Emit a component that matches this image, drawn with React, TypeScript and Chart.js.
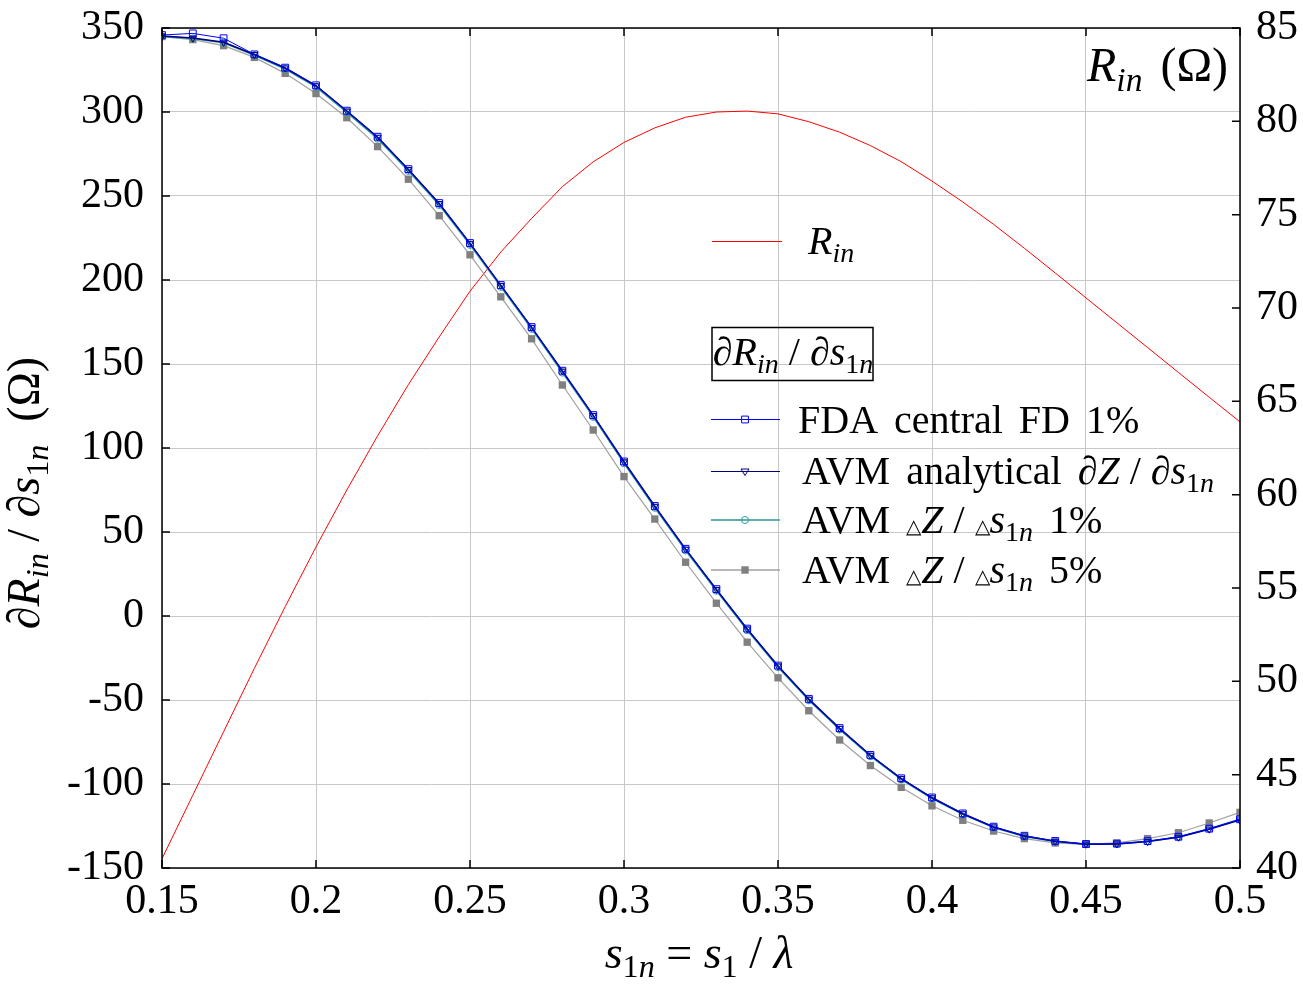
import React, { useEffect, useRef } from "react";
import { Chart, registerables } from "chart.js";

Chart.register(...registerables);

const xValues = [
  0.15, 0.16, 0.17, 0.18, 0.19, 0.2, 0.21, 0.22, 0.23, 0.24, 0.25, 0.26,
  0.27, 0.28, 0.29, 0.3, 0.31, 0.32, 0.33, 0.34, 0.35, 0.36, 0.37, 0.38,
  0.39, 0.4, 0.41, 0.42, 0.43, 0.44, 0.45, 0.46, 0.47, 0.48, 0.49, 0.5,
];

const rinValues = [
  40.5, 43.9, 47.3, 50.7, 54.0, 57.2, 60.25, 63.15, 65.9, 68.45, 70.9, 73.0,
  74.8, 76.5, 77.83, 78.87, 79.65, 80.22, 80.5, 80.55, 80.4, 79.98, 79.42, 78.7,
  77.84, 76.8, 75.68, 74.48, 73.2, 71.88, 70.54, 69.21, 67.88, 66.55, 65.22, 63.9,
];

const fdaValues = [
  345.8, 346.8, 343.9, 334.3, 326.4, 315.9, 300.8, 285.3, 266, 245.8, 222, 197,
  172, 146, 119.6, 92, 65.5, 40, 16, -7.5, -29.5, -49.3, -66.7, -82.7,
  -96.6, -108, -117.5, -125.4, -130.8, -133.9, -135.7, -135.5, -134, -131.4, -126.6, -121,
];

const avmAnalyticalValues = [
  345.2, 344.0, 341.5, 334.2, 326.2, 315.6, 300.6, 285.0, 265.8, 245.5, 221.8, 196.8,
  171.8, 145.8, 119.4, 91.8, 65.3, 39.8, 15.8, -7.7, -29.7, -49.5, -66.9, -82.9,
  -96.8, -108.2, -117.7, -125.6, -131.0, -134.1, -135.8, -135.7, -134.3, -131.7, -126.9, -121.4,
];

const avm1Values = [
  345.0, 343.8, 341.2, 333.7, 325.6, 314.9, 299.8, 284.1, 264.9, 244.6, 220.9, 195.9,
  170.9, 144.9, 118.5, 90.9, 64.4, 39.0, 15.0, -8.5, -30.5, -50.2, -67.6, -83.5,
  -97.3, -108.7, -118.1, -125.9, -131.3, -134.3, -135.9, -135.7, -134.2, -131.5, -126.6, -121.0,
];

const avm5Values = [
  344.9, 343.1, 339.5, 332.5, 323, 311, 296.6, 279.4, 260, 238.3, 215, 190,
  165, 137.5, 110.7, 83, 57.7, 32, 7.6, -15.6, -36.8, -56.4, -73.8, -89,
  -102, -113, -121.6, -128, -132.5, -135.1, -135.9, -135.1, -132.5, -129, -123.2, -116.9,
];

const FONT = '"Liberation Serif", "Times New Roman", serif';

type Seg = { t?: string; i?: boolean; sub?: boolean; sc?: number; g?: number };

function segFont(s: Seg, base: number) {
  let size = base;
  if (s.sub) size = base * 0.7;
  if (s.sc) size = base * s.sc;
  return `${s.i ? "italic " : ""}${size}px ${FONT}`;
}

function drawSegs(
  ctx: CanvasRenderingContext2D,
  segs: Seg[],
  x: number,
  y: number,
  base: number,
  align: "left" | "center" | "right" = "left"
) {
  let total = 0;
  const widths: number[] = [];
  for (const s of segs) {
    if (s.g) {
      widths.push(s.g);
      total += s.g;
      continue;
    }
    ctx.font = segFont(s, base);
    const w = ctx.measureText(s.t || "").width;
    widths.push(w);
    total += w;
  }
  let cx = align === "center" ? x - total / 2 : align === "right" ? x - total : x;
  ctx.textAlign = "left";
  ctx.textBaseline = "alphabetic";
  segs.forEach((s, k) => {
    if (!s.g) {
      ctx.font = segFont(s, base);
      const dy = s.sub ? base * 0.2 : 0;
      ctx.fillText(s.t || "", cx, y + dy);
    }
    cx += widths[k];
  });
}

function marker(ctx: CanvasRenderingContext2D, kind: string, x: number, y: number, color: string) {
  ctx.save();
  ctx.strokeStyle = color;
  ctx.fillStyle = color;
  ctx.lineWidth = 1;
  ctx.beginPath();
  if (kind === "square") {
    ctx.rect(x - 3.4, y - 3.4, 6.8, 6.8);
    ctx.stroke();
  } else if (kind === "filled") {
    ctx.rect(x - 3.7, y - 3.7, 7.4, 7.4);
    ctx.fill();
  } else if (kind === "tri") {
    ctx.moveTo(x - 4, y - 2.5);
    ctx.lineTo(x + 4, y - 2.5);
    ctx.lineTo(x, y + 4);
    ctx.closePath();
    ctx.stroke();
  } else if (kind === "circle") {
    ctx.arc(x, y, 3.5, 0, Math.PI * 2);
    ctx.stroke();
  }
  ctx.restore();
}

const BLUE = "#0000ff";
const NAVY = "#00007a";
const TEAL = "#2a9a9a";
const TEAL_LEGEND = "#5fb0b0";
const GRAY_LINE = "#a0a0a0";
const GRAY_MARK = "#808080";
const RED = "#ff0000";

const sub = (t: string, i = false): Seg => ({ t, sub: true, i });
const dTri: Seg = { t: "△", sc: 0.5 };

const framePlugin = {
  id: "frameAndText",
  afterDraw(chart: any) {
    const { ctx, chartArea: a, scales } = chart;
    ctx.save();
    // frame
    ctx.strokeStyle = "#000";
    ctx.lineWidth = 1.5;
    ctx.strokeRect(a.left, a.top, a.right - a.left, a.bottom - a.top);
    // inward ticks
    const L = 8;
    ctx.lineWidth = 1.5;
    ctx.beginPath();
    scales.x.ticks.forEach((t: any) => {
      const px = scales.x.getPixelForValue(t.value);
      ctx.moveTo(px, a.bottom);
      ctx.lineTo(px, a.bottom - L);
      ctx.moveTo(px, a.top);
      ctx.lineTo(px, a.top + L);
    });
    scales.y.ticks.forEach((t: any) => {
      const py = scales.y.getPixelForValue(t.value);
      ctx.moveTo(a.left, py);
      ctx.lineTo(a.left + L, py);
    });
    scales.y1.ticks.forEach((t: any) => {
      const py = scales.y1.getPixelForValue(t.value);
      ctx.moveTo(a.right, py);
      ctx.lineTo(a.right - L, py);
    });
    ctx.stroke();

    ctx.fillStyle = "#000";
    // x axis title
    drawSegs(
      ctx,
      [
        { t: "s", i: true },
        sub("1"),
        sub("n", true),
        { t: " = " },
        { t: "s", i: true },
        sub("1"),
        { t: " / " },
        { t: "λ", i: true },
      ],
      (a.left + a.right) / 2 - 2,
      968,
      46,
      "center"
    );
    // left y title (rotated)
    ctx.save();
    ctx.translate(39, 493);
    ctx.rotate(-Math.PI / 2);
    drawSegs(
      ctx,
      [
        { t: "∂" },
        { t: "R", i: true },
        sub("in", true),
        { t: " / " },
        { t: "∂" },
        { t: "s", i: true },
        sub("1"),
        sub("n", true),
        { t: "  (Ω)" },
      ],
      0,
      0,
      46,
      "center"
    );
    ctx.restore();
    // right axis label (top-right)
    drawSegs(
      ctx,
      [{ t: "R", i: true }, sub("in", true), { g: 6 }, { t: " (Ω)" }],
      1087,
      81,
      48,
      "left"
    );

    // Rin legend
    ctx.strokeStyle = RED;
    ctx.lineWidth = 1;
    ctx.beginPath();
    ctx.moveTo(712, 241.5);
    ctx.lineTo(782, 241.5);
    ctx.stroke();
    drawSegs(ctx, [{ t: "R", i: true }, sub("in", true)], 808, 254, 40, "left");

    // derivative legend box
    ctx.strokeStyle = "#000";
    ctx.lineWidth = 1.5;
    ctx.strokeRect(712, 327.5, 161, 53);
    drawSegs(
      ctx,
      [
        { t: "∂" },
        { t: "R", i: true },
        sub("in", true),
        { t: " / " },
        { t: "∂" },
        { t: "s", i: true },
        sub("1"),
        sub("n", true),
      ],
      793,
      365,
      40,
      "center"
    );

    const rows: { y: number; base: number; color: string; w: number; kind: string; mcolor: string; segs: Seg[]; tx: number }[] = [
      {
        y: 419.5, base: 433, color: BLUE, w: 1, kind: "square", mcolor: BLUE, tx: 798,
        segs: [{ t: "FDA" }, { g: 16 }, { t: "central" }, { g: 16 }, { t: "FD" }, { g: 16 }, { t: "1%" }],
      },
      {
        y: 471.5, base: 484, color: NAVY, w: 1.2, kind: "tri", mcolor: NAVY, tx: 802,
        segs: [
          { t: "AVM" }, { g: 16 }, { t: "analytical" }, { g: 16 }, { t: "∂" }, { t: "Z", i: true },
          { t: " / " }, { t: "∂" }, { t: "s", i: true }, sub("1"), sub("n", true),
        ],
      },
      {
        y: 520, base: 533, color: TEAL_LEGEND, w: 2, kind: "circle", mcolor: TEAL, tx: 802,
        segs: [
          { t: "AVM" }, { g: 16 }, dTri, { t: "Z", i: true }, { t: " / " }, dTri,
          { t: "s", i: true }, sub("1"), sub("n", true), { g: 16 }, { t: "1%" },
        ],
      },
      {
        y: 570, base: 583, color: GRAY_LINE, w: 1.5, kind: "filled", mcolor: GRAY_MARK, tx: 802,
        segs: [
          { t: "AVM" }, { g: 16 }, dTri, { t: "Z", i: true }, { t: " / " }, dTri,
          { t: "s", i: true }, sub("1"), sub("n", true), { g: 16 }, { t: "5%" },
        ],
      },
    ];
    rows.forEach((r) => {
      ctx.strokeStyle = r.color;
      ctx.lineWidth = r.w;
      ctx.beginPath();
      ctx.moveTo(711, r.y);
      ctx.lineTo(780, r.y);
      ctx.stroke();
      marker(ctx, r.kind, 745, r.y, r.mcolor);
      ctx.fillStyle = "#000";
      drawSegs(ctx, r.segs, r.tx, r.base, 40, "left");
    });
    ctx.restore();
  },
};

function pts(vals: number[]) {
  return vals.map((v, k) => ({ x: xValues[k], y: v }));
}

export default function App() {
  const ref = useRef<HTMLCanvasElement | null>(null);
  useEffect(() => {
    if (!ref.current) return;
    const tickFont = { family: FONT, size: 42 };
    const yTickFont = { family: FONT, size: 42, lineHeight: 0.4 };
    const chart = new Chart(ref.current, {
      type: "line",
      data: {
        datasets: [
          {
            label: "FDA central FD 1%",
            data: pts(fdaValues),
            borderColor: BLUE,
            borderWidth: 1,
            pointStyle: "rect",
            pointRadius: 4.8,
            pointBorderColor: BLUE,
            pointBackgroundColor: "rgba(0,0,0,0)",
            pointBorderWidth: 1,
            yAxisID: "y",
          },
          {
            label: "AVM analytical",
            data: pts(avmAnalyticalValues),
            borderColor: NAVY,
            borderWidth: 1.5,
            pointStyle: "triangle",
            rotation: 180,
            pointRadius: 4,
            pointBorderColor: NAVY,
            pointBackgroundColor: "rgba(0,0,0,0)",
            pointBorderWidth: 1,
            yAxisID: "y",
          },
          {
            label: "AVM 1%",
            data: pts(avm1Values),
            borderColor: TEAL,
            borderWidth: 1.5,
            pointStyle: "circle",
            pointRadius: 3.5,
            pointBorderColor: TEAL,
            pointBackgroundColor: "rgba(0,0,0,0)",
            pointBorderWidth: 1,
            yAxisID: "y",
          },
          {
            label: "AVM 5%",
            data: pts(avm5Values),
            borderColor: GRAY_LINE,
            borderWidth: 1.2,
            pointStyle: "rect",
            pointRadius: 5.2,
            pointBorderColor: GRAY_MARK,
            pointBackgroundColor: GRAY_MARK,
            pointBorderWidth: 0,
            yAxisID: "y",
          },
          {
            label: "Rin",
            data: pts(rinValues),
            borderColor: RED,
            borderWidth: 1,
            pointRadius: 0,
            yAxisID: "y1",
          },
        ],
      },
      options: {
        animation: false,
        responsive: false,
        layout: { padding: { top: 28, left: 0, right: 0, bottom: 0 } },
        plugins: { legend: { display: false }, tooltip: { enabled: false } },
        scales: {
          x: {
            type: "linear",
            min: 0.15,
            max: 0.5,
            ticks: {
              stepSize: 0.05,
              font: tickFont,
              color: "#000",
              padding: 9,
              maxRotation: 0,
              autoSkip: false,
              callback: (v: any) => String(+Number(v).toFixed(2)),
            },
            grid: { color: "#c8c8c8", lineWidth: 1, drawTicks: false },
            border: { display: false },
            afterFit: (s: any) => {
              s.height = 119;
            },
          },
          y: {
            position: "left",
            min: -150,
            max: 350,
            ticks: {
              stepSize: 50,
              font: yTickFont,
              color: "#000",
              padding: 18,
              callback: (v: any) => String(v),
            },
            grid: { color: "#c8c8c8", lineWidth: 1, drawTicks: false },
            border: { display: false },
            afterFit: (s: any) => {
              s.width = 162;
            },
          },
          y1: {
            position: "right",
            min: 40,
            max: 85,
            ticks: {
              stepSize: 5,
              font: yTickFont,
              color: "#000",
              padding: 16,
              callback: (v: any) => String(v),
            },
            grid: { display: false, drawTicks: false },
            border: { display: false },
            afterFit: (s: any) => {
              s.width = 63;
            },
          },
        },
      },
      plugins: [framePlugin],
    } as any);
    return () => chart.destroy();
  }, []);
  return (
    <div style={{ position: "absolute", left: 0, top: 0, width: 1303, height: 987, background: "#fff" }}>
      <canvas ref={ref} width={1303} height={987} style={{ display: "block", width: 1303, height: 987 }} />
    </div>
  );
}
